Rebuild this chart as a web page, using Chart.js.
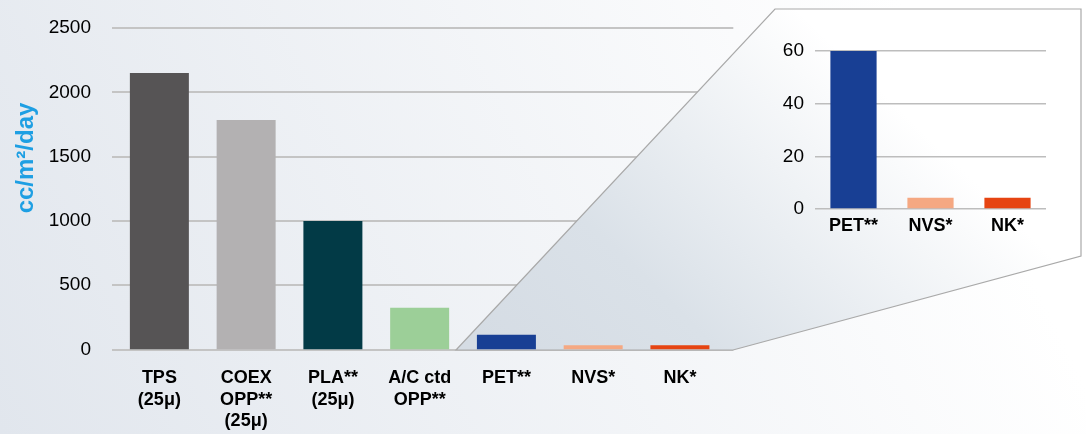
<!DOCTYPE html>
<html><head><meta charset="utf-8">
<script src="https://cdn.jsdelivr.net/npm/chart.js@4"></script>
<style>
html,body{margin:0;padding:0;width:1086px;height:434px;overflow:hidden;background:#fff;}
#wrap{position:relative;width:1086px;height:434px;}
#main{position:absolute;left:0;top:0;}
#inset{position:absolute;left:760px;top:30px;}
#ytitle{position:absolute;left:-77px;top:146px;width:200px;height:24px;line-height:24px;text-align:center;
  transform:rotate(-90deg);font:bold 24px "Liberation Sans",Arial,sans-serif;color:#1e9fe3;white-space:nowrap;}
</style></head>
<body>
<div id="wrap">
<canvas id="main" width="1086" height="434"></canvas>
<canvas id="inset" width="326" height="220"></canvas>
<div id="ytitle">cc/m²/day</div>
</div>
<script>
// ---- data ----
const mainCategories = [['TPS','(25μ)'], ['COEX','OPP**','(25μ)'], ['PLA**','(25μ)'], ['A/C ctd','OPP**'], 'PET**', 'NVS*', 'NK*'];
const mainValues = [2150, 1785, 1000, 325, 115, 33, 33];
const mainColors = ['#565455', '#b3b1b2', '#023a46', '#9ccf98', '#183f94', '#f5a882', '#e64412'];
const mainTicks = [0, 500, 1000, 1500, 2000, 2500];

const insetCategories = ['PET**', 'NVS*', 'NK*'];
const insetValues = [60, 4.3, 4.3];
const insetColors = ['#183f94', '#f5a882', '#e64412'];
const insetTicks = [0, 20, 40, 60];

const FONT = '"Liberation Sans", Arial, sans-serif';
const plain = v => String(v);

const mainDecor = {
  id: 'mainDecor',
  beforeDraw(chart) {
    const ctx = chart.ctx;
    const g = ctx.createLinearGradient(0, chart.height, 900, 0);
    g.addColorStop(0, '#e1e6ed');
    g.addColorStop(1, '#ffffff');
    ctx.save();
    ctx.fillStyle = g;
    ctx.fillRect(0, 0, chart.width, chart.height);
    ctx.restore();
  },
  beforeDatasetsDraw(chart) {
    const ctx = chart.ctx, y = chart.scales.y, a = chart.chartArea;
    ctx.save();
    ctx.strokeStyle = '#c4c4c4';
    ctx.lineWidth = 2;
    y.ticks.forEach(t => {
      const py = Math.round(y.getPixelForValue(t.value));
      ctx.beginPath();
      ctx.moveTo(a.left - 4, py);
      ctx.lineTo(a.right + 10, py);
      ctx.stroke();
    });
    // zoom trapezoid
    const base = Math.round(y.getPixelForValue(0));
    const g = ctx.createLinearGradient(560, 420, 880, 90);
    g.addColorStop(0, '#d5dce4');
    g.addColorStop(0.35, '#dae1e8');
    g.addColorStop(1, '#ffffff');
    ctx.beginPath();
    ctx.moveTo(456, base);
    ctx.lineTo(775, 9);
    ctx.lineTo(1081, 9);
    ctx.lineTo(1081, 256);
    ctx.lineTo(733, base);
    ctx.closePath();
    ctx.fillStyle = g;
    ctx.fill();
    ctx.strokeStyle = '#a9a9a9';
    ctx.lineWidth = 1.2;
    ctx.stroke();
    ctx.restore();
  }
};

new Chart(document.getElementById('main'), {
  type: 'bar',
  data: {
    labels: mainCategories,
    datasets: [{ data: mainValues, backgroundColor: mainColors, borderWidth: 0, barPercentage: 0.68, categoryPercentage: 1 }]
  },
  options: {
    responsive: false,
    animation: false,
    layout: { padding: { left: 0, top: 28, right: 362.7, bottom: 0 } },
    plugins: { legend: { display: false }, tooltip: { enabled: false } },
    scales: {
      x: {
        grid: { display: false }, border: { display: false },
        ticks: { color: '#000', font: { family: FONT, size: 18, weight: 'bold', lineHeight: 1.2 }, padding: 10, maxRotation: 0, autoSkip: false },
        afterFit: s => { s.height = 84.5; s.paddingLeft = 0; s.paddingRight = 0; }
      },
      y: {
        min: 0, max: 2500,
        afterBuildTicks: s => { s.ticks = mainTicks.map(v => ({ value: v })); },
        grid: { display: false, drawTicks: false }, border: { display: false },
        ticks: { color: '#000', font: { family: FONT, size: 19 }, padding: 25, callback: plain },
        afterFit: s => { s.width = 116; s.paddingTop = 0; s.paddingBottom = 0; }
      }
    }
  },
  plugins: [mainDecor]
});

new Chart(document.getElementById('inset'), {
  type: 'bar',
  data: {
    labels: insetCategories,
    datasets: [{ data: insetValues, backgroundColor: insetColors, borderWidth: 0, barPercentage: 0.6, categoryPercentage: 1 }]
  },
  options: {
    responsive: false,
    animation: false,
    layout: { padding: { left: 0, top: 21, right: 40, bottom: 0 } },
    plugins: { legend: { display: false }, tooltip: { enabled: false } },
    scales: {
      x: {
        grid: { display: false }, border: { display: false },
        ticks: { color: '#000', font: { family: FONT, size: 18, weight: 'bold' }, padding: -2, maxRotation: 0, autoSkip: false },
        afterFit: s => { s.height = 41; s.paddingLeft = 0; s.paddingRight = 0; }
      },
      y: {
        min: 0, max: 60,
        afterBuildTicks: s => { s.ticks = insetTicks.map(v => ({ value: v })); },
        grid: { color: '#bdbdbd', lineWidth: 1.5, drawTicks: false }, border: { display: false },
        ticks: { color: '#000', font: { family: FONT, size: 19 }, padding: 11, callback: plain },
        afterFit: s => { s.width = 55; s.paddingTop = 0; s.paddingBottom = 0; }
      }
    }
  }
});
</script>
</body></html>
